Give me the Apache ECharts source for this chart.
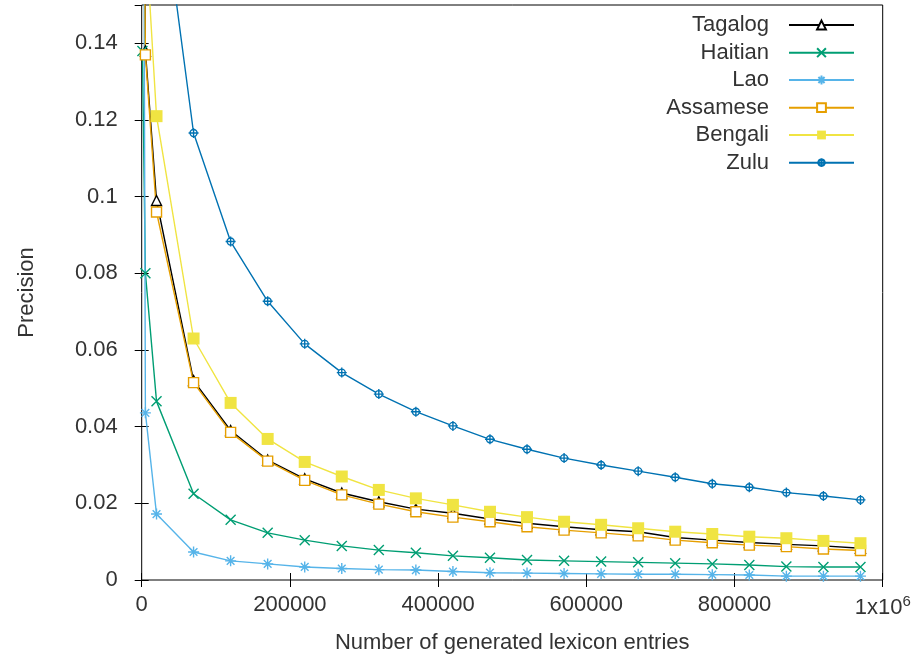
<!DOCTYPE html>
<html>
<head>
<meta charset="utf-8">
<script src="https://cdn.jsdelivr.net/npm/echarts@6/dist/echarts.min.js"></script>
<style>
  html, body { margin: 0; padding: 0; background: #fff; }
  #chart { width: 919px; height: 660px; }
</style>
</head>
<body>
<div id="chart"></div>
<script>
// number of generated lexicon entries (shared by all series)
var entries = [1000, 5000, 20000, 70000, 120000, 170000, 220000, 270000, 320000, 370000, 420000,
    470000, 520000, 570000, 620000, 670000, 720000, 770000, 820000, 870000, 920000, 970000];

// precision per language (first points sit above the visible range)
var tagalog = [0.25, 0.138, 0.099, 0.052, 0.039, 0.0313, 0.0264, 0.0227, 0.0204, 0.0185, 0.0174,
    0.0159, 0.0148, 0.0139, 0.0131, 0.0126, 0.0111, 0.0104, 0.0098, 0.0093, 0.0089, 0.0083];
var haitian = [0.138, 0.080, 0.0466, 0.0225, 0.0157, 0.0123, 0.0104, 0.0089, 0.0078, 0.0071, 0.0063,
    0.0058, 0.0052, 0.0050, 0.0048, 0.0046, 0.0044, 0.0042, 0.0039, 0.0035, 0.0034, 0.0034];
var lao = [0.30, 0.0436, 0.0172, 0.0073, 0.0050, 0.0042, 0.0034, 0.0030, 0.0027, 0.0026, 0.0022,
    0.0019, 0.0018, 0.0017, 0.0016, 0.0015, 0.0015, 0.0014, 0.0013, 0.0010, 0.0010, 0.0010];
var assamese = [0.24, 0.137, 0.096, 0.0515, 0.0385, 0.031, 0.026, 0.0222, 0.0198, 0.0178, 0.0164,
    0.0152, 0.0139, 0.0130, 0.0123, 0.0115, 0.0104, 0.0097, 0.0091, 0.0087, 0.0081, 0.0077];
var bengali = [0.30, 0.17, 0.121, 0.063, 0.0462, 0.0368, 0.0308, 0.027, 0.0235, 0.0213, 0.0196,
    0.0178, 0.0164, 0.0152, 0.0144, 0.0135, 0.0126, 0.0120, 0.0113, 0.0109, 0.0102, 0.0096];
var zulu = [0.50, 0.32, 0.19, 0.1166, 0.0883, 0.0727, 0.0616, 0.0541, 0.0485, 0.0439, 0.0402,
    0.0367, 0.0341, 0.0318, 0.0300, 0.0284, 0.0268, 0.0251, 0.0242, 0.0228, 0.0219, 0.0209];

var names = ['Tagalog', 'Haitian', 'Lao', 'Assamese', 'Bengali', 'Zulu'];
var values = [tagalog, haitian, lao, assamese, bengali, zulu];
var colors = ['#000000', '#009e73', '#56b4e9', '#e69f00', '#f0e442', '#0072b2'];

var font = 'Liberation Sans, Arial, sans-serif';
var textColor = '#333';

// gnuplot-like point types
var marks = [
    {symbol: 'triangle', size: 10, fill: '#fff'},
    {symbol: 'path://M0,0L10,10M10,0L0,10', size: 10, fill: null},
    {symbol: 'path://M5,0L5,10M0,5L10,5M1.5,1.5L8.5,8.5M8.5,1.5L1.5,8.5', size: 11, fill: null},
    {symbol: 'rect', size: 10, fill: '#fff'},
    {symbol: 'rect', size: 12, fill: 'fill'},
    {symbol: 'path://M5,0L5,10M0,5L10,5M8.5,5A3.5,3.5,0,1,1,1.5,5A3.5,3.5,0,1,1,8.5,5Z', size: 10, fill: '#fff'}
];

function pairs(ys) {
    return entries.map(function (x, i) { return [x, ys[i]]; });
}

var series = names.map(function (n, i) {
    var m = marks[i];
    var fill = m.fill === 'fill' || m.fill === null ? colors[i] : m.fill;
    return {
        name: n,
        type: 'line',
        data: pairs(values[i]),
        symbol: m.symbol,
        symbolSize: m.size,
        showAllSymbol: true,
        animation: false,
        lineStyle: {color: colors[i], width: 1.4},
        itemStyle: {color: fill, borderColor: colors[i], borderWidth: m.fill === 'fill' ? 0 : 1.4}
    };
});

// one legend per row so the labels line up on the right
var rowCenters = [25, 52.7, 80, 107.7, 135, 162.7];
var legends = names.map(function (n, i) {
    return {
        data: [n],
        right: 64,
        top: rowCenters[i] - 12,
        padding: 0,
        align: 'right',
        itemWidth: 65,
        itemHeight: 11,
        selectedMode: false,
        textStyle: {fontFamily: font, fontSize: 22, lineHeight: 24, color: textColor, padding: [0, 15, 0, 0]}
    };
});

var myChart = echarts.init(document.getElementById('chart'));

var option = {
    backgroundColor: '#fff',
    animation: false,
    legend: legends,
    grid: {left: 141.7, right: 36.3, top: 5, bottom: 80, show: true, borderColor: '#000', borderWidth: 1, backgroundColor: 'transparent'},
    xAxis: [{
        type: 'value',
        min: 0,
        max: 1000000,
        interval: 200000,
        name: 'Number of generated lexicon entries',
        nameLocation: 'middle',
        nameGap: 52,
        nameTextStyle: {fontFamily: font, fontSize: 22, color: textColor},
        axisLine: {show: false},
        axisTick: {inside: true, length: 7, lineStyle: {color: '#000'}},
        splitLine: {show: false},
        axisLabel: {
            margin: 14,
            fontFamily: font,
            fontSize: 22,
            color: textColor,
            formatter: function (v) {
                if (v === 1000000) return '1x10{sup|6}';
                return String(v);
            },
            rich: {sup: {fontFamily: font, fontSize: 15, color: textColor, verticalAlign: 'top', padding: [0, 0, 12, 0]}}
        }
    }, {
        type: 'value',
        position: 'top',
        min: 0,
        max: 1000000,
        interval: 200000,
        axisLine: {show: false},
        axisTick: {inside: true, length: 7, lineStyle: {color: '#000'}},
        axisLabel: {show: false},
        splitLine: {show: false}
    }],
    yAxis: [{
        type: 'value',
        min: 0,
        max: 0.15,
        interval: 0.02,
        name: 'Precision',
        nameLocation: 'middle',
        nameGap: 104,
        nameTextStyle: {fontFamily: font, fontSize: 22, color: textColor},
        axisLine: {show: false},
        axisTick: {inside: true, length: 7, lineStyle: {color: '#000'}},
        splitLine: {show: false},
        axisLabel: {margin: 24, fontFamily: font, fontSize: 22, color: textColor, showMaxLabel: false}
    }, {
        type: 'value',
        position: 'right',
        min: 0,
        max: 0.15,
        interval: 0.02,
        axisLine: {show: false},
        axisTick: {inside: true, length: 7, lineStyle: {color: '#000'}},
        axisLabel: {show: false},
        splitLine: {show: false}
    }],
    series: series
};

myChart.setOption(option);
</script>
</body>
</html>
